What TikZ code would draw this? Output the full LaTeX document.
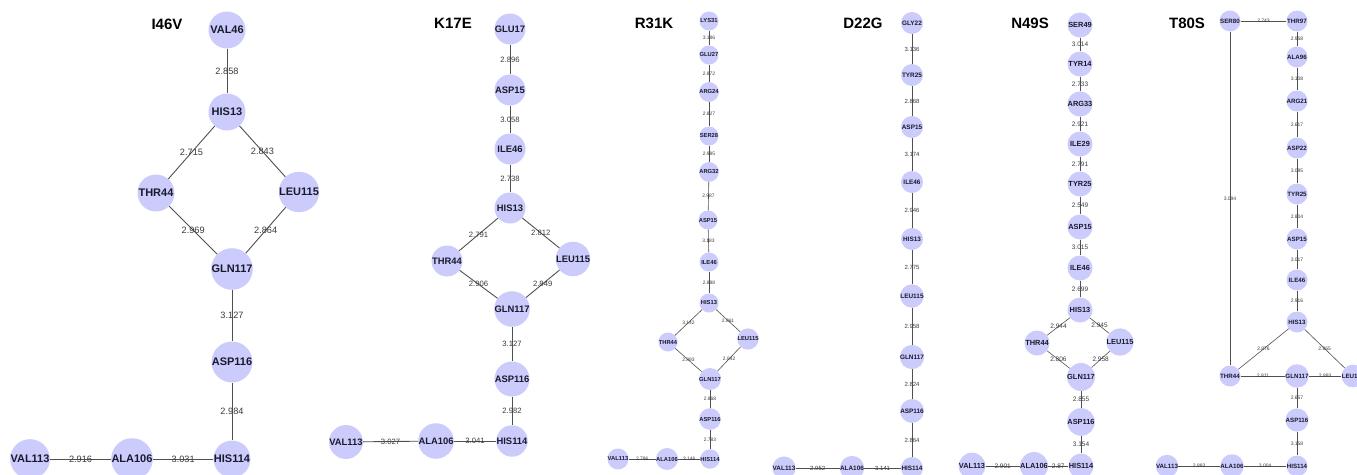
\documentclass[tikz,border=0pt]{standalone}
\usepackage{fontspec}
\setmainfont{Liberation Sans}
\definecolor{nodefill}{RGB}{204,204,252}
\definecolor{nodetext}{RGB}{25,25,45}
\definecolor{edgec}{RGB}{80,80,80}
\definecolor{labc}{RGB}{60,60,60}
\tikzset{
  res/.style={circle, fill=nodefill, draw=none, inner sep=0pt, text=nodetext},
  r1/.style={res, minimum size=37pt, font=\fontsize{11}{11}\selectfont\bfseries},
  r2/.style={res, minimum size=31pt, font=\fontsize{9.4}{9.4}\selectfont\bfseries},
  r3/.style={res, minimum size=19pt, font=\fontsize{5.8}{5.8}\selectfont\bfseries},
  r4/.style={res, minimum size=22pt, font=\fontsize{6.4}{6.4}\selectfont\bfseries},
  r5/.style={res, minimum size=25pt, font=\fontsize{7.4}{7.4}\selectfont\bfseries},
  r6/.style={res, minimum size=21pt, font=\fontsize{6.2}{6.2}\selectfont\bfseries},
  lab/.style={inner sep=0pt, text=labc, midway},
  l1/.style={lab, font=\fontsize{9.2}{9.2}\selectfont},
  l2/.style={lab, font=\fontsize{7.7}{7.7}\selectfont},
  l3/.style={lab, font=\fontsize{4.9}{4.9}\selectfont},
  l4/.style={lab, font=\fontsize{6}{6}\selectfont},
  l5/.style={lab, font=\fontsize{6.5}{6.5}\selectfont},
  l6/.style={lab, font=\fontsize{5}{5}\selectfont},
  e/.style={draw=edgec, line width=0.9pt},
  es/.style={draw=edgec, line width=0.6pt},
  ttl/.style={font=\fontsize{15}{15}\selectfont\bfseries, text=black, inner sep=0pt},
}
\begin{document}
\begin{tikzpicture}[x=1pt,y=-1pt]
\clip (0,0) rectangle (1357,474);
\fill[white] (0,0) rectangle (1357,474);
% ---------- Panel 1: I46V
\node[ttl] (t1) at (167,24) {I46V};
\node[r1] (aVAL46) at (227,30) {VAL46};
\node[r1] (aHIS13) at (227,112) {HIS13};
\node[r1] (aTHR44) at (156,193) {THR44};
\node[r1] (aLEU115) at (299,192) {LEU115};
\node[r1] (aGLN117) at (232,269) {GLN117};
\node[r1] (aASP116) at (232,362) {ASP116};
\node[r1] (aHIS114) at (232,459) {HIS114};
\node[r1] (aALA106) at (132,459) {ALA106};
\node[r1] (aVAL113) at (30,459) {VAL113};
\draw[e] (aVAL46) -- node[l1]{2.858} (aHIS13);
\draw[e] (aHIS13) -- node[l1]{2.715} (aTHR44);
\draw[e] (aHIS13) -- node[l1]{2.843} (aLEU115);
\draw[e] (aTHR44) -- node[l1]{2.969} (aGLN117);
\draw[e] (aLEU115) -- node[l1]{2.864} (aGLN117);
\draw[e] (aGLN117) -- node[l1]{3.127} (aASP116);
\draw[e] (aASP116) -- node[l1]{2.984} (aHIS114);
\draw[e] (aVAL113) -- node[l1]{2.916} (aALA106);
\draw[e] (aALA106) -- node[l1]{3.031} (aHIS114);
% ---------- Panel 2: K17E
\node[ttl] (t2) at (453,23) {K17E};
\node[r2] (bGLU17) at (510,29) {GLU17};
\node[r2] (bASP15) at (510,90) {ASP15};
\node[r2] (bILE46) at (510,149) {ILE46};
\node[r2] (bHIS13) at (510,208) {HIS13};
\node[r2] (bTHR44) at (447,261) {THR44};
\node[r2] (bLEU115) at (573,259) {LEU115};
\node[r2] (bGLN117) at (512,309) {GLN117};
\node[r2] (bASP116) at (512,379) {ASP116};
\node[r2] (bHIS114) at (512,441) {HIS114};
\node[r2] (bALA106) at (436,441) {ALA106};
\node[r2] (bVAL113) at (346,442) {VAL113};
\draw[e] (bGLU17) -- node[l2]{2.896} (bASP15);
\draw[e] (bASP15) -- node[l2]{3.058} (bILE46);
\draw[e] (bILE46) -- node[l2]{2.738} (bHIS13);
\draw[e] (bHIS13) -- node[l2]{2.791} (bTHR44);
\draw[e] (bHIS13) -- node[l2]{2.812} (bLEU115);
\draw[e] (bTHR44) -- node[l2]{2.906} (bGLN117);
\draw[e] (bLEU115) -- node[l2]{2.849} (bGLN117);
\draw[e] (bGLN117) -- node[l2]{3.127} (bASP116);
\draw[e] (bASP116) -- node[l2]{2.982} (bHIS114);
\draw[e] (bVAL113) -- node[l2]{3.027} (bALA106);
\draw[e] (bALA106) -- node[l2]{3.041} (bHIS114);
% ---------- Panel 3: R31K
\node[ttl] (t3) at (654,23) {R31K};
\node[r3] (cLYS31) at (709,21) {LYS31};
\node[r3] (cGLU27) at (709,55) {GLU27};
\node[r3] (cARG24) at (709,92) {ARG24};
\node[r3] (cSER28) at (709,136) {SER28};
\node[r3] (cARG32) at (709,172) {ARG32};
\node[r3] (cASP15) at (708,220) {ASP15};
\node[r3] (cILE46) at (709,262) {ILE46};
\node[r3] (cHIS13) at (709,303) {HIS13};
\node[r3] (cTHR44) at (668,342) {THR44};
\node[r3] (cLEU115) at (748,339) {LEU115};
\node[r3] (cGLN117) at (710,379) {GLN117};
\node[r3] (cASP116) at (710,419) {ASP116};
\node[r3] (cHIS114) at (710,459) {HIS114};
\node[r3] (cALA106) at (667,459) {ALA106};
\node[r3] (cVAL113) at (618,459) {VAL113};
\draw[es] (cLYS31) -- node[l3]{3.186} (cGLU27);
\draw[es] (cGLU27) -- node[l3]{2.872} (cARG24);
\draw[es] (cARG24) -- node[l3]{2.827} (cSER28);
\draw[es] (cSER28) -- node[l3]{2.985} (cARG32);
\draw[es] (cARG32) -- node[l3]{2.987} (cASP15);
\draw[es] (cASP15) -- node[l3]{3.183} (cILE46);
\draw[es] (cILE46) -- node[l3]{2.888} (cHIS13);
\draw[es] (cHIS13) -- node[l3]{3.142} (cTHR44);
\draw[es] (cHIS13) -- node[l3]{2.861} (cLEU115);
\draw[es] (cTHR44) -- node[l3]{2.893} (cGLN117);
\draw[es] (cLEU115) -- node[l3]{2.842} (cGLN117);
\draw[es] (cGLN117) -- node[l3]{2.868} (cASP116);
\draw[es] (cASP116) -- node[l3]{2.783} (cHIS114);
\draw[es] (cVAL113) -- node[l3]{2.796} (cALA106);
\draw[es] (cALA106) -- node[l3]{3.146} (cHIS114);
% ---------- Panel 4: D22G
\node[ttl] (t4) at (863,23) {D22G};
\node[r4] (dGLY22) at (912,23) {GLY22};
\node[r4] (dTYR25) at (912,75) {TYR25};
\node[r4] (dASP15) at (912,127) {ASP15};
\node[r4] (dILE46) at (912,182) {ILE46};
\node[r4] (dHIS13) at (912,239) {HIS13};
\node[r4] (dLEU115) at (912,296) {LEU115};
\node[r4] (dGLN117) at (912,357) {GLN117};
\node[r4] (dASP116) at (912,411) {ASP116};
\node[r4] (dHIS114) at (912,468) {HIS114};
\node[r4] (dALA106) at (852,468) {ALA106};
\node[r4] (dVAL113) at (784,468) {VAL113};
\draw[es] (dGLY22) -- node[l4]{3.136} (dTYR25);
\draw[es] (dTYR25) -- node[l4]{2.868} (dASP15);
\draw[es] (dASP15) -- node[l4]{3.174} (dILE46);
\draw[es] (dILE46) -- node[l4]{2.946} (dHIS13);
\draw[es] (dHIS13) -- node[l4]{2.775} (dLEU115);
\draw[es] (dLEU115) -- node[l4]{2.958} (dGLN117);
\draw[es] (dGLN117) -- node[l4]{2.824} (dASP116);
\draw[es] (dASP116) -- node[l4]{2.864} (dHIS114);
\draw[es] (dVAL113) -- node[l4]{2.952} (dALA106);
\draw[es] (dALA106) -- node[l4]{3.141} (dHIS114);
% ---------- Panel 5: N49S
\node[ttl] (t5) at (1030,23) {N49S};
\node[r5] (eSER49) at (1080,25) {SER49};
\node[r5] (eTYR14) at (1080,64) {TYR14};
\node[r5] (eARG33) at (1080,104) {ARG33};
\node[r5] (eILE29) at (1080,144) {ILE29};
\node[r5] (eTYR25) at (1080,184) {TYR25};
\node[r5] (eASP15) at (1080,227) {ASP15};
\node[r5] (eILE46) at (1080,268) {ILE46};
\node[r5] (eHIS13) at (1080,310) {HIS13};
\node[r5] (eTHR44) at (1037,343) {THR44};
\node[r5] (eLEU115) at (1120,342) {LEU115};
\node[r5] (eGLN117) at (1081,377) {GLN117};
\node[r5] (eASP116) at (1081,422) {ASP116};
\node[r5] (eHIS114) at (1081,466) {HIS114};
\node[r5] (eALA106) at (1034,466) {ALA106};
\node[r5] (eVAL113) at (972,466) {VAL113};
\draw[es] (eSER49) -- node[l5]{3.014} (eTYR14);
\draw[es] (eTYR14) -- node[l5]{2.733} (eARG33);
\draw[es] (eARG33) -- node[l5]{2.921} (eILE29);
\draw[es] (eILE29) -- node[l5]{2.791} (eTYR25);
\draw[es] (eTYR25) -- node[l5]{2.549} (eASP15);
\draw[es] (eASP15) -- node[l5]{3.015} (eILE46);
\draw[es] (eILE46) -- node[l5]{2.699} (eHIS13);
\draw[es] (eHIS13) -- node[l5]{2.944} (eTHR44);
\draw[es] (eHIS13) -- node[l5]{2.945} (eLEU115);
\draw[es] (eTHR44) -- node[l5]{2.806} (eGLN117);
\draw[es] (eLEU115) -- node[l5]{2.958} (eGLN117);
\draw[es] (eGLN117) -- node[l5]{2.855} (eASP116);
\draw[es] (eASP116) -- node[l5]{3.154} (eHIS114);
\draw[es] (eVAL113) -- node[l5]{2.901} (eALA106);
\draw[es] (eALA106) -- node[l5]{2.87} (eHIS114);
% ---------- Panel 6: T80S
\node[ttl] (t6) at (1187,23) {T80S};
\node[r6] (fSER80) at (1230,21) {SER80};
\node[r6] (fTHR97) at (1297,21) {THR97};
\node[r6] (fALA96) at (1297,57) {ALA96};
\node[r6] (fARG21) at (1297,101) {ARG21};
\node[r6] (fASP22) at (1297,148) {ASP22};
\node[r6] (fTYR25) at (1297,194) {TYR25};
\node[r6] (fASP15) at (1297,239) {ASP15};
\node[r6] (fILE46) at (1297,280) {ILE46};
\node[r6] (fHIS13) at (1297,322) {HIS13};
\node[r6] (fTHR44) at (1230,376) {THR44};
\node[r6] (fGLN117) at (1297,376) {GLN117};
\node[r6] (fLEU115) at (1353,376) {LEU115};
\node[r6] (fASP116) at (1297,420) {ASP116};
\node[r6] (fHIS114) at (1297,466) {HIS114};
\node[r6] (fALA106) at (1232,466) {ALA106};
\node[r6] (fVAL113) at (1167,466) {VAL113};
\draw[es] (fSER80) -- node[l6]{2.743} (fTHR97);
\draw[es] (fTHR97) -- node[l6]{2.958} (fALA96);
\draw[es] (fALA96) -- node[l6]{3.108} (fARG21);
\draw[es] (fARG21) -- node[l6]{2.617} (fASP22);
\draw[es] (fASP22) -- node[l6]{3.095} (fTYR25);
\draw[es] (fTYR25) -- node[l6]{2.804} (fASP15);
\draw[es] (fASP15) -- node[l6]{3.017} (fILE46);
\draw[es] (fILE46) -- node[l6]{2.916} (fHIS13);
\draw[es] (fSER80) -- node[l6]{3.094} (fTHR44);
\draw[es] (fHIS13) -- node[l6]{2.876} (fTHR44);
\draw[es] (fHIS13) -- node[l6]{2.865} (fLEU115);
\draw[es] (fTHR44) -- node[l6]{2.811} (fGLN117);
\draw[es] (fGLN117) -- node[l6]{2.893} (fLEU115);
\draw[es] (fGLN117) -- node[l6]{2.657} (fASP116);
\draw[es] (fASP116) -- node[l6]{3.158} (fHIS114);
\draw[es] (fVAL113) -- node[l6]{2.883} (fALA106);
\draw[es] (fALA106) -- node[l6]{3.004} (fHIS114);
\end{tikzpicture}
\end{document}
